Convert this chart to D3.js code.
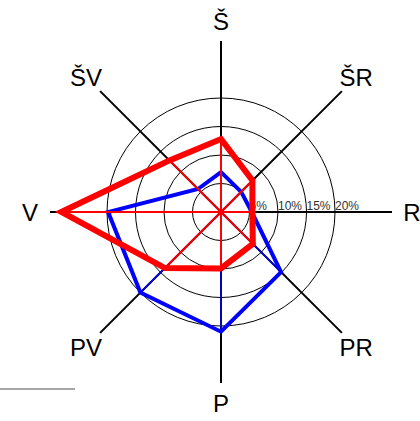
<!DOCTYPE html>
<html><head><meta charset="utf-8">
<script src="https://cdn.jsdelivr.net/npm/d3@7"></script>
<style>html,body{margin:0;padding:0;background:#fff;}svg{display:block;}</style>
</head><body>
<svg id="c" width="420" height="421"></svg>
<script>
const directions = ["Š","ŠR","R","PR","P","PV","V","ŠV"];
const blueValues = [7.0, 5.0, 5.4, 14.9, 21.0, 20.0, 19.8, 5.7];
const redValues  = [12.8, 7.8, 5.5, 7.9, 9.9, 13.9, 28.0, 12.8];
const ringValues = [5, 10, 15, 20];
const ringLabels = ["5%", "10%", "15%", "20%"];
const maxValue = 30;

const svg = d3.select("#c");
const cx = 221, cy = 212;
const r = d3.scaleLinear().domain([0, maxValue]).range([0, 171]);
const angle = d3.scalePoint().domain(directions).range([0, 2*Math.PI*(7/8)]);
const pt = (d, v) => { const a = angle(d) - Math.PI/2; return [cx + r(v)*Math.cos(a), cy + r(v)*Math.sin(a)]; };

// decorative gray line bottom-left
svg.append("line").attr("x1",0).attr("x2",75).attr("y1",389).attr("y2",389)
  .attr("stroke","#888").attr("stroke-width",1.5);

// rings
svg.selectAll("circle.ring").data(ringValues).enter().append("circle")
  .attr("cx",cx).attr("cy",cy).attr("r",d=>r(d))
  .attr("fill","none").attr("stroke","#000").attr("stroke-width",1);

// axes
svg.selectAll("line.axis").data(directions).enter().append("line")
  .attr("x1",cx).attr("y1",cy)
  .attr("x2",d=>pt(d,maxValue)[0]).attr("y2",d=>pt(d,maxValue)[1])
  .attr("stroke","#000").attr("stroke-width",2);

// ring labels
svg.selectAll("text.rl").data(ringValues).enter().append("text")
  .attr("x",d=>cx + r(d)).attr("y",cy-2)
  .attr("font-family","Liberation Sans, Arial, sans-serif").attr("font-size",12)
  .attr("fill","#333").text((d,i)=>ringLabels[i]);

// direction labels
svg.selectAll("text.dl").data(directions).enter().append("text")
  .attr("x",d=>{const a=angle(d)-Math.PI/2; return cx+191*Math.cos(a);})
  .attr("y",d=>{const a=angle(d)-Math.PI/2; return cy+191*Math.sin(a);})
  .attr("dy","0.36em").attr("text-anchor","middle")
  .attr("font-family","Liberation Sans, Arial, sans-serif").attr("font-size",24)
  .attr("fill","#000").text(d=>d);

function series(vals, color, polyW, spokeW){
  const g = svg.append("g");
  g.selectAll("line").data(directions).enter().append("line")
    .attr("x1",cx).attr("y1",cy)
    .attr("x2",(d,i)=>pt(d,vals[i])[0]).attr("y2",(d,i)=>pt(d,vals[i])[1])
    .attr("stroke",color).attr("stroke-width",spokeW);
  const line = d3.line().curve(d3.curveLinearClosed);
  g.append("path").attr("d", line(directions.map((d,i)=>pt(d,vals[i]))))
    .attr("fill","none").attr("stroke",color).attr("stroke-width",polyW)
    .attr("stroke-linejoin","miter");
}
series(blueValues, "#0000ff", 4, 1.5);
series(redValues, "#ff0000", 6, 2);
</script>
</body></html>
